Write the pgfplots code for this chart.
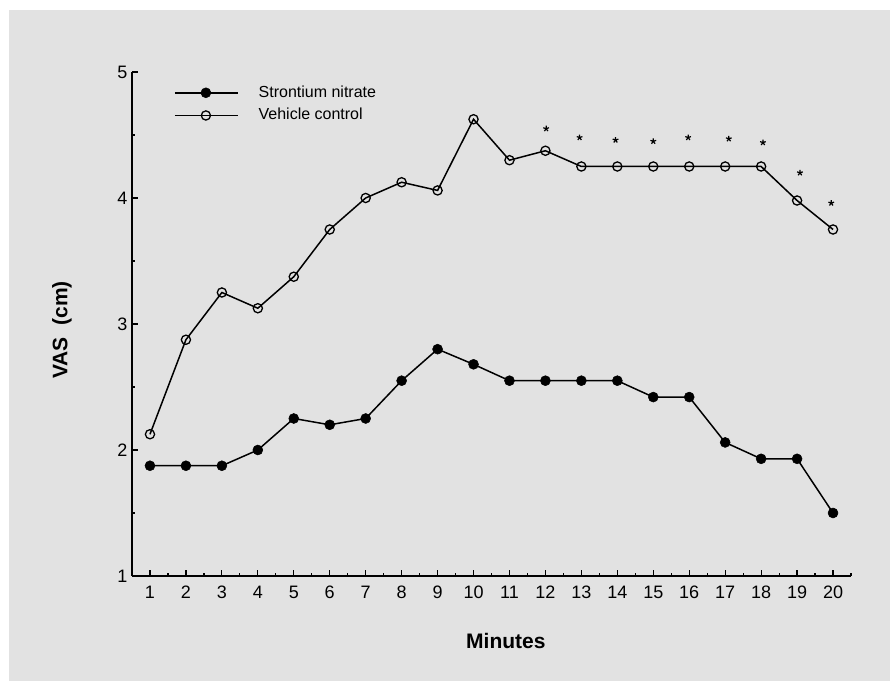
\documentclass[border=0pt]{standalone}
\usepackage{pgfplots}
\pgfplotsset{compat=1.18}
\usepackage{fontspec}
\setmainfont{Liberation Sans}
\definecolor{bg}{RGB}{226,226,226}
\begin{document}
\begin{tikzpicture}[x=1pt,y=1pt]
\path (0,0) rectangle (890,684);
\fill[bg] (9,3) rectangle (890,674);
\begin{axis}[
  at={(132pt,108pt)}, anchor=south west,
  scale only axis, width=719pt, height=504pt,
  xmin=0.5, xmax=20.5, ymin=1, ymax=5,
  axis lines=left, axis line style={-, line width=1.8pt},
  xtick={1,...,20}, ytick={1,2,3,4,5},
  minor xtick={1.5,2.5,...,20.5}, minor ytick={1.5,2.5,3.5,4.5},
  tick align=inside,
  major tick length=6pt, minor tick length=3pt,
  tick style={line width=1.2pt, black},
  ticklabel style={font=\fontsize{18}{20}\selectfont},
  /pgf/number format/assume math mode=true,
  xticklabel style={text height=13pt, text depth=0pt, yshift=-6pt},
  yticklabel style={xshift=-1pt},
  xlabel={\textbf{Minutes}},
  ylabel={\textbf{VAS\ \ (cm)}},
  label style={font=\fontsize{21}{24}\selectfont},
  xlabel style={at={(axis description cs:0.52,0)}, anchor=center, yshift=-65pt},
  ylabel style={at={(axis description cs:0,0.5)}, anchor=center, rotate=0, yshift=70pt, xshift=-6pt},
  legend style={draw=none, fill=none, at={(axis cs:1.667,4.745)}, anchor=west,
    font=\fontsize{16}{18}\selectfont, inner sep=0pt, row sep=5.7pt, column sep=19pt,
    nodes={inner sep=1pt, text height=12pt, text depth=3pt}},
  legend cell align=left,
  legend image code/.code={\draw[mark repeat=2,mark phase=2] plot coordinates {(0pt,0pt) (31pt,0pt) (63pt,0pt)};},
  clip=false,
]
\addplot[black, line width=1.5pt, mark=*, mark size=5pt, mark options={fill=black, line width=0.5pt}]
coordinates {(1,1.875) (2,1.875) (3,1.875) (4,2.0) (5,2.25) (6,2.2) (7,2.25) (8,2.55) (9,2.8) (10,2.68) (11,2.55) (12,2.55) (13,2.55) (14,2.55) (15,2.42) (16,2.42) (17,2.06) (18,1.93) (19,1.93) (20,1.5)};
\addlegendentry{Strontium nitrate}
\addplot[black, line width=1.5pt, mark=o, mark size=4.6pt, mark options={fill=bg, line width=1.3pt}]
coordinates {(1,2.125) (2,2.875) (3,3.25) (4,3.125) (5,3.375) (6,3.75) (7,4.0) (8,4.125) (9,4.06) (10,4.625) (11,4.3) (12,4.375) (13,4.25) (14,4.25) (15,4.25) (16,4.25) (17,4.25) (18,4.25) (19,3.98) (20,3.75)};
\addlegendentry{Vehicle control}
\addplot[only marks, black, mark=star, mark size=3pt, mark options={line width=1.2pt}, forget plot]
coordinates {(12.02,4.55) (12.95,4.48) (13.95,4.46) (15.0,4.45) (15.97,4.48) (17.1,4.47) (18.05,4.44) (19.08,4.2) (19.95,3.96)};
\end{axis}
\end{tikzpicture}
\end{document}
